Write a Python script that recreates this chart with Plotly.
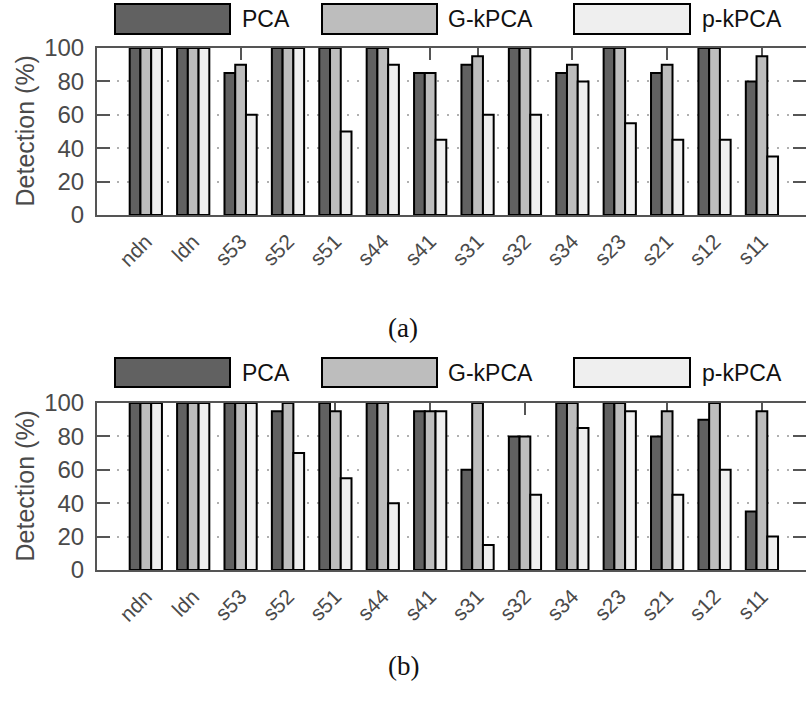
import plotly.graph_objects as go

categories = ["ndn", "ldn", "s53", "s52", "s51", "s44", "s41", "s31",
              "s32", "s34", "s23", "s21", "s12", "s11"]
series_names = ["PCA", "G-kPCA", "p-kPCA"]

# panel (a)
a_pca  = [100, 100, 85, 100, 100, 100, 85, 90, 100, 85, 100, 85, 100, 80]
a_gk   = [100, 100, 90, 100, 100, 100, 85, 95, 100, 90, 100, 90, 100, 95]
a_pk   = [100, 100, 60, 100, 50, 90, 45, 60, 60, 80, 55, 45, 45, 35]

# panel (b)
b_pca  = [100, 100, 100, 95, 100, 100, 95, 60, 80, 100, 100, 80, 90, 35]
b_gk   = [100, 100, 100, 100, 95, 100, 95, 100, 80, 100, 100, 95, 100, 95]
b_pk   = [100, 100, 100, 70, 55, 40, 95, 15, 45, 85, 95, 45, 60, 20]

y_ticks = [0, 20, 40, 60, 80, 100]
colors = ["#616161", "#bdbdbd", "#efefef"]
captions = ["(a)", "(b)"]

W, H = 806, 702
def px(x):
    return x / W
def py(y):
    return 1 - y / H

fig = go.Figure()

panels = [(a_pca, a_gk, a_pk), (b_pca, b_gk, b_pk)]
for pi, vals in enumerate(panels):
    xa = "x" if pi == 0 else "x2"
    ya = "y" if pi == 0 else "y2"
    for si, v in enumerate(vals):
        fig.add_trace(go.Bar(
            x=categories, y=v, name=series_names[si],
            marker=dict(color=colors[si], line=dict(color="black", width=2)),
            xaxis=xa, yaxis=ya, showlegend=False, offsetgroup=str(si),
        ))

axis_col = "#555555"
tick_font = dict(family="Liberation Sans, Arial, sans-serif", size=24, color="#4a4a4a")
xtick_font = dict(family="Liberation Sans, Arial, sans-serif", size=21, color="#4a4a4a")

plot_boxes = [(48, 215), (403, 570)]
xl, xr = 97, 806

def xaxis_cfg(anchor):
    return dict(
        domain=[px(xl), px(xr)], anchor=anchor, type="category",
        range=[-1.03, 13.93], showline=True, linecolor=axis_col, linewidth=2,
        mirror="ticks", ticks="inside", ticklen=12, tickwidth=2, tickcolor=axis_col,
        tickangle=-45, tickfont=xtick_font, showgrid=False, layer="below traces",
        automargin=False, fixedrange=True, ticklabelstandoff=4,
    )

def yaxis_cfg(anchor, box):
    return dict(
        domain=[py(box[1]), py(box[0])], anchor=anchor, range=[0, 100],
        tickvals=y_ticks, showline=True, linecolor=axis_col, linewidth=2,
        mirror="ticks", ticks="inside", ticklen=13, tickwidth=2, tickcolor=axis_col,
        tickfont=tick_font, showgrid=True, gridcolor="#b0b0b0", gridwidth=2,
        griddash="2px,8px", zeroline=False, layer="below traces",
        ticklabelstandoff=6, automargin=False, fixedrange=True,
    )

shapes = []
annotations = []
legend_boxes = [(115, 230, 240), (322, 437, 446), (574, 690, 700)]
legend_rows = [(4, 34), (358, 387)]
caption_y = [328, 666]

for pi in range(2):
    top, bot = plot_boxes[pi]
    # y title
    annotations.append(dict(
        text="Detection (%)", x=px(24), y=py((top + bot) / 2), xref="paper", yref="paper",
        xanchor="center", yanchor="middle", textangle=-90, showarrow=False,
        font=dict(family="Liberation Sans, Arial, sans-serif", size=25, color="#4a4a4a"),
    ))
    # legend
    lt, lb = legend_rows[pi]
    for si, (x0, x1, tx) in enumerate(legend_boxes):
        shapes.append(dict(
            type="rect", xref="paper", yref="paper", x0=px(x0), x1=px(x1),
            y0=py(lb), y1=py(lt), fillcolor=colors[si],
            line=dict(color="black", width=2),
        ))
        annotations.append(dict(
            text=series_names[si], x=px(tx), y=py((lt + lb) / 2), xref="paper", yref="paper",
            xanchor="left", yanchor="middle", showarrow=False,
            font=dict(family="Liberation Sans, Arial, sans-serif", size=23, color="#111111"),
        ))
    annotations.append(dict(
        text=captions[pi], x=px(403), y=py(caption_y[pi]), xref="paper", yref="paper",
        xanchor="center", yanchor="middle", showarrow=False,
        font=dict(family="Liberation Serif, DejaVu Serif, serif", size=27, color="#111111"),
    ))

fig.update_layout(
    width=W, height=H,
    margin=dict(l=0, r=0, t=0, b=0),
    paper_bgcolor="white", plot_bgcolor="white",
    barmode="group", bargap=0.32, bargroupgap=0,
    xaxis=xaxis_cfg("y"), yaxis=yaxis_cfg("x", plot_boxes[0]),
    xaxis2=xaxis_cfg("y2"), yaxis2=yaxis_cfg("x2", plot_boxes[1]),
    shapes=shapes, annotations=annotations, showlegend=False,
)

fig.write_html("out.html")
